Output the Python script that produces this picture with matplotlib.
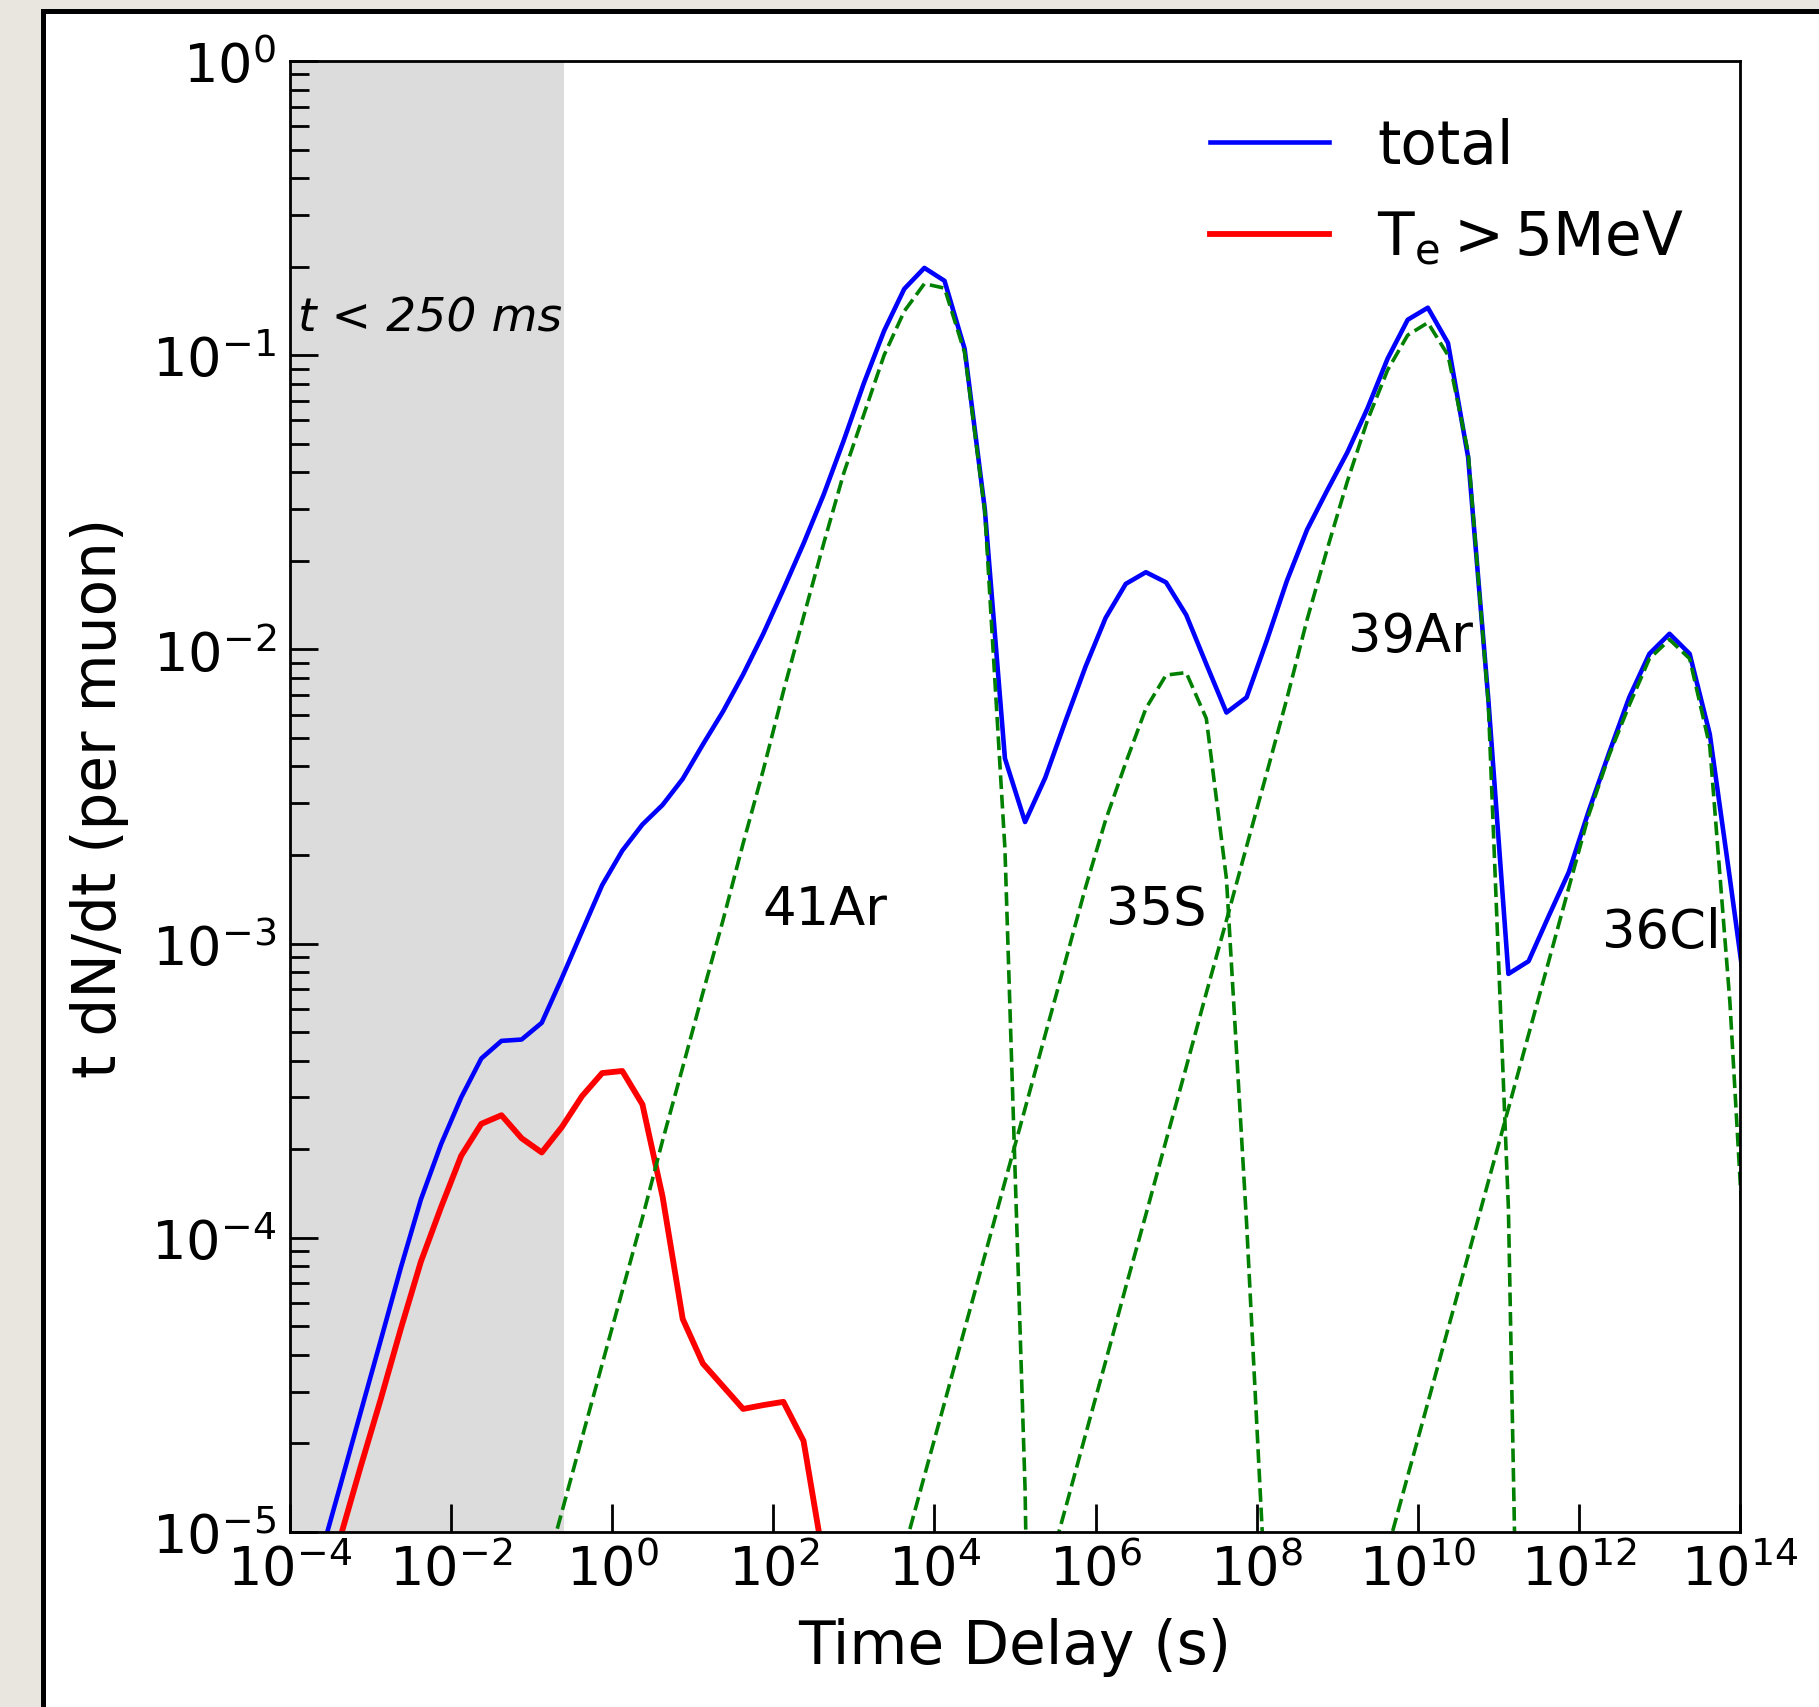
import numpy as np
import matplotlib
matplotlib.use('Agg')
import matplotlib.pyplot as plt
from matplotlib.patches import Rectangle
from matplotlib.ticker import NullLocator

# bin centres in log10(t / s), quarter-decade bins
log_t = np.arange(-3.875, 14.2, 0.25)
t = 10.0 ** log_t

# total yield per muon (k = 0 .. 72)
total = [4.6e-6, 8.2e-6, 1.44e-5, 2.54e-5, 4.47e-5, 7.9e-5, 1.35e-4, 2.08e-4,
         3.0e-4, 4.07e-4, 4.67e-4, 4.72e-4, 5.38e-4, 7.64e-4, 1.10e-3, 1.58e-3,
         2.07e-3, 2.54e-3, 2.96e-3, 3.63e-3, 4.75e-3, 6.15e-3, 8.22e-3, 1.13e-2,
         1.60e-2, 2.29e-2, 3.36e-2, 5.14e-2, 8.05e-2, 0.121, 0.168, 0.198,
         0.179, 0.105, 3.0e-2, 4.26e-3, 2.59e-3, 3.66e-3, 5.69e-3, 8.73e-3,
         1.28e-2, 1.67e-2, 1.83e-2, 1.69e-2, 1.31e-2, 8.91e-3, 6.10e-3, 6.87e-3,
         1.07e-2, 1.71e-2, 2.55e-2, 3.47e-2, 4.67e-2, 6.59e-2, 9.73e-2, 0.132,
         0.145, 0.110, 4.50e-2, 6.81e-3, 7.89e-4, 8.71e-4, 1.24e-3, 1.75e-3,
         2.84e-3, 4.45e-3, 6.87e-3, 9.66e-3, 1.13e-2, 9.66e-3, 5.15e-3, 1.66e-3,
         5.2e-4]

# electrons above 5 MeV (k = 0 .. 26)
high_e = [3.2e-6, 5.6e-6, 9.6e-6, 1.66e-5, 2.82e-5, 4.9e-5, 8.3e-5, 1.27e-4,
          1.90e-4, 2.44e-4, 2.61e-4, 2.18e-4, 1.95e-4, 2.38e-4, 3.03e-4, 3.63e-4,
          3.69e-4, 2.84e-4, 1.38e-4, 5.3e-5, 3.74e-5, 3.13e-5, 2.62e-5, 2.70e-5,
          2.77e-5, 2.04e-5, 8.0e-6]

# isotope contributions: first bin index and values
ar41_start = 12
ar41 = [6.6e-6, 1.17e-5, 2.09e-5, 3.72e-5, 6.6e-5, 1.17e-4, 2.14e-4, 3.8e-4,
        6.8e-4, 1.20e-3, 2.19e-3, 3.89e-3, 7.2e-3, 1.29e-2, 2.29e-2, 3.98e-2,
        6.3e-2, 0.100, 0.141, 0.175, 0.169, 0.102, 2.95e-2, 2.1e-3, 1.4e-5, 1e-9]
s35_start = 29
s35 = [4.9e-6, 8.7e-6, 1.55e-5, 2.75e-5, 4.9e-5, 8.7e-5, 1.55e-4, 2.75e-4,
       4.9e-4, 8.7e-4, 1.55e-3, 2.63e-3, 4.12e-3, 6.3e-3, 8.18e-3, 8.34e-3,
       5.82e-3, 1.66e-3, 1.12e-4, 5e-6, 1e-8]
ar39_start = 36
ar39 = [3.8e-6, 6.8e-6, 1.2e-5, 2.14e-5, 3.8e-5, 6.8e-5, 1.2e-4, 2.14e-4,
        3.8e-4, 6.8e-4, 1.2e-3, 2.14e-3, 3.8e-3, 6.8e-3, 1.26e-2, 2.19e-2,
        3.72e-2, 6.0e-2, 8.9e-2, 0.117, 0.129, 0.100, 4.68e-2, 6.6e-3, 1.26e-4,
        3e-8]
cl36_start = 54
cl36 = [8.7e-6, 1.55e-5, 2.75e-5, 4.9e-5, 8.7e-5, 1.55e-4, 2.75e-4, 4.9e-4,
        8.7e-4, 1.55e-3, 2.75e-3, 4.37e-3, 6.46e-3, 9.3e-3, 1.08e-2, 9.3e-3,
        4.68e-3, 6.3e-4, 4e-5]

components = [(ar41_start, ar41), (s35_start, s35), (ar39_start, ar39), (cl36_start, cl36)]
isotope_labels = [('41Ar', 74.0, 1.17e-3), ('35S', 1.33e6, 1.17e-3),
                  ('39Ar', 1.36e9, 9.9e-3), ('36Cl', 1.93e12, 9.7e-4)]

W, H = 1819, 1708
fig = plt.figure(figsize=(W / 100, H / 100), dpi=100, facecolor='#e8e6df')
frame = Rectangle((43 / W, -0.05), 1.2, 1.05 - 12 / H,
                  transform=fig.transFigure, facecolor='white',
                  edgecolor='black', lw=3.6, zorder=-10)
fig.patches.append(frame)

ax = fig.add_axes([290 / W, 1 - 1533 / H, 1450 / W, 1471 / H])
ax.set_facecolor('white')

ax.axvspan(1e-4, 0.25, color='gainsboro', lw=0, zorder=0)
ax.plot(t, total, color='blue', lw=3.3, label='total')
ax.plot(t[:len(high_e)], high_e, color='red', lw=4.2, label=r'$\mathrm{T_e > 5MeV}$')
for start, vals in components:
    ax.plot(t[start:start + len(vals)], vals, color='green', lw=2.6, dashes=(3.8, 1.6))

for name, x, y in isotope_labels:
    ax.text(x, y, name, fontsize=38, ha='left', va='baseline')
ax.text(1.26e-4, 0.121, 't < 250 ms', fontsize=34, style='italic', ha='left', va='baseline')

ax.set_xscale('log')
ax.set_yscale('log')
ax.set_xlim(1e-4, 1e14)
ax.set_ylim(1e-5, 1)
ax.set_xticks([10.0 ** e for e in range(-4, 15, 2)])
ax.xaxis.set_minor_locator(NullLocator())
ax.tick_params(which='both', direction='in', top=False, right=False)
ax.tick_params(which='major', length=20, width=2.0, labelsize=39, pad=10)
ax.tick_params(which='minor', length=14, width=2.0)
ax.tick_params(axis='x', which='major', pad=8)
for s in ax.spines.values():
    s.set_linewidth(2.0)

ax.set_xlabel('Time Delay (s)', fontsize=43, labelpad=15)
ax.set_ylabel('t dN/dt (per muon)', fontsize=43, labelpad=16)

ax.legend(loc='upper left', bbox_to_anchor=(1156 / W, 1 - 64 / H),
          bbox_transform=fig.transFigure, frameon=False, fontsize=43,
          handlelength=2.0, handletextpad=0.8, labelspacing=0.55)

fig.savefig('out.png', dpi=100, facecolor=fig.get_facecolor())
